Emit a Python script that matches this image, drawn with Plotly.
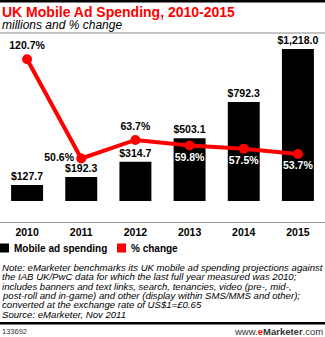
import plotly.graph_objects as go

W, H = 325, 337

years = ["2010", "2011", "2012", "2013", "2014", "2015"]
spending = [127.7, 192.3, 314.7, 503.1, 792.3, 1218.0]
pct_change = [120.7, 50.6, 63.7, 59.8, 57.5, 53.7]
spend_labels = ["$127.7", "$192.3", "$314.7", "$503.1", "$792.3", "$1,218.0"]
pct_labels = ["120.7%", "50.6%", "63.7%", "59.8%", "57.5%", "53.7%"]
pct_text_pos = ["top center", "middle left", "top center", "bottom center", "bottom center", "bottom center"]
pct_text_color = ["black", "black", "black", "white", "white", "white"]

title = "UK Mobile Ad Spending, 2010-2015"
subtitle = "millions and % change"
legend_names = ["Mobile ad spending", "% change"]
note_lines = [
    "Note: eMarketer benchmarks its UK mobile ad spending projections against",
    "the IAB UK/PwC data for which the last full year measured was 2010;",
    "includes banners and text links, search, tenancies, video (pre-, mid-,",
    "post-roll and in-game) and other (display within SMS/MMS and other);",
    "converted at the exchange rate of US$1=£0.65",
    "Source: eMarketer, Nov 2011",
]
chart_id = "133692"

RED = "#ff0000"
FONT = "Liberation Sans, Arial, sans-serif"


def px(x):
    return x / W


def py(y):
    return 1 - y / H


plot_top, plot_bottom = 40, 222

fig = go.Figure()
fig.add_trace(go.Bar(
    x=years, y=spending, marker=dict(color="black", line=dict(width=0)),
    text=spend_labels, textposition="outside", cliponaxis=False, constraintext="none",
    textfont=dict(family=FONT, size=10.5, color="black", weight="bold"),
    showlegend=False, hoverinfo="skip",
))
fig.add_trace(go.Scatter(
    x=years, y=pct_change, yaxis="y2", mode="lines+markers+text",
    line=dict(color=RED, width=4), marker=dict(color=RED, size=10),
    text=pct_labels, textposition=pct_text_pos, cliponaxis=False,
    textfont=dict(family=FONT, size=10.5, color=pct_text_color, weight="bold"),
    showlegend=False, hoverinfo="skip",
))

annotations = []
shapes = []

# title block
annotations.append(dict(x=0, y=py(11.5), xref="paper", yref="paper", xanchor="left", yanchor="middle",
                        text="<b>" + title + "</b>", showarrow=False,
                        font=dict(family=FONT, size=14, color=RED)))
annotations.append(dict(x=0, y=py(25), xref="paper", yref="paper", xanchor="left", yanchor="middle",
                        text="<i>" + subtitle + "</i>", showarrow=False,
                        font=dict(family=FONT, size=12, color="black")))
shapes.append(dict(type="rect", xref="paper", yref="paper", x0=0, x1=1, y0=py(0), y1=py(2.5),
                   fillcolor="black", line=dict(width=0)))
shapes.append(dict(type="line", xref="paper", yref="paper", x0=0, x1=1, y0=py(33), y1=py(33),
                   line=dict(color="#888888", width=1)))

# legend
leg_y = 248
shapes.append(dict(type="rect", xref="paper", yref="paper", x0=px(0), x1=px(9),
                   y0=py(leg_y - 4.5), y1=py(leg_y + 4.5), fillcolor="black", line=dict(width=0)))
annotations.append(dict(x=px(12), y=py(leg_y), xref="paper", yref="paper", xanchor="left", yanchor="middle",
                        text="<b>" + legend_names[0] + "</b>", showarrow=False,
                        font=dict(family=FONT, size=10, color="black")))
shapes.append(dict(type="rect", xref="paper", yref="paper", x0=px(117), x1=px(126),
                   y0=py(leg_y - 4.5), y1=py(leg_y + 4.5), fillcolor=RED, line=dict(width=0)))
annotations.append(dict(x=px(129), y=py(leg_y), xref="paper", yref="paper", xanchor="left", yanchor="middle",
                        text="<b>" + legend_names[1] + "</b>", showarrow=False,
                        font=dict(family=FONT, size=10, color="black")))

# notes
note_y0, note_dy = 267.3, 9.4
for i, line in enumerate(note_lines):
    annotations.append(dict(x=0, y=py(note_y0 + i * note_dy), xref="paper", yref="paper",
                            xanchor="left", yanchor="middle", text="<i>" + line + "</i>",
                            showarrow=False, font=dict(family=FONT, size=9.6, color="black")))

# footer
shapes.append(dict(type="rect", xref="paper", yref="paper", x0=0, x1=1, y0=py(322), y1=py(324.5),
                   fillcolor="black", line=dict(width=0)))
annotations.append(dict(x=0, y=py(331), xref="paper", yref="paper", xanchor="left", yanchor="middle",
                        text=chart_id, showarrow=False, font=dict(family=FONT, size=7.5, color="#333333")))
annotations.append(dict(x=1, y=py(331), xref="paper", yref="paper", xanchor="right", yanchor="middle",
                        text="www.<b><span style='color:#ff0000'>e</span>Marketer</b>.com", showarrow=False,
                        font=dict(family=FONT, size=9.5, color="#333333")))

fig.update_layout(
    width=W, height=H, margin=dict(l=0, r=0, t=0, b=0, pad=0),
    paper_bgcolor="white", plot_bgcolor="white",
    bargap=0.41,
    xaxis=dict(domain=[0, 1], showgrid=False, zeroline=False, showline=True, linecolor="#999999",
               linewidth=1, ticks="", tickfont=dict(family=FONT, size=10.5, color="black", weight="bold"),
               fixedrange=True),
    yaxis=dict(domain=[py(plot_bottom), py(plot_top)], range=[-168.9, 1290], visible=False,
               showgrid=False, zeroline=False, fixedrange=True),
    yaxis2=dict(overlaying="y", range=[5.7, 134.3], visible=False, showgrid=False, zeroline=False,
                fixedrange=True),
    annotations=annotations, shapes=shapes, showlegend=False,
)

fig.write_html("out.html")
